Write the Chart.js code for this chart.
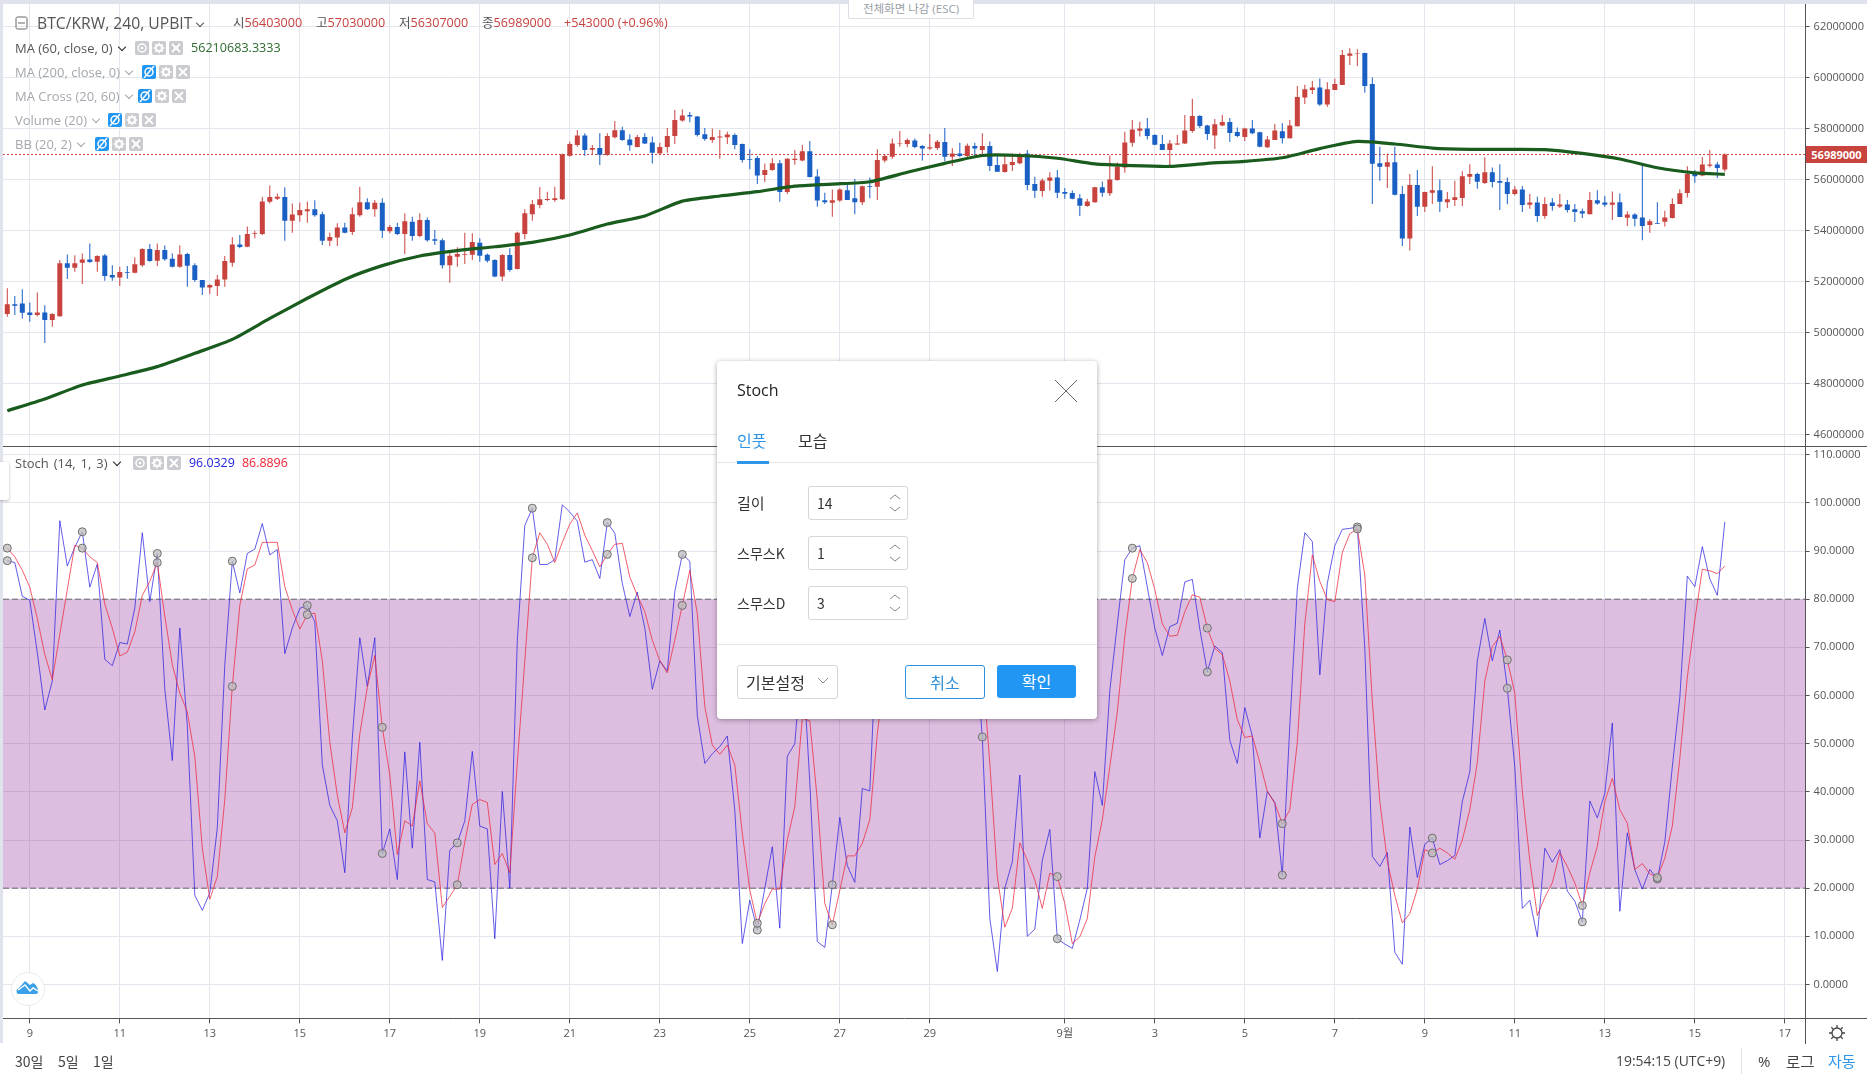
<!DOCTYPE html>
<html lang="ko">
<head>
<meta charset="utf-8">
<title>BTC/KRW Stoch</title>
<script src="https://cdn.jsdelivr.net/npm/chart.js@4/dist/chart.umd.min.js"></script>
<style>
html,body{margin:0;padding:0;background:#fff;width:1867px;height:1080px;overflow:hidden;
  font-family:"Open Sans","Noto Sans CJK KR",sans-serif;color:#555;}
.abs,.t,.ic,.field{position:absolute;}
.wrap{position:absolute;left:0;width:1867px;}
.t{white-space:nowrap;font-size:13px;line-height:16px;}
.faded{color:#a4a8ae;}
.red{color:#c8423e;}
.ic{width:14px;height:14px;border-radius:2px;background:#c9cbd0;}
.ic.on{background:#2196f3;}
.ic svg{left:0;top:0;}
.chev{display:inline-block;width:5px;height:5px;border-right:1.3px solid;border-bottom:1.3px solid;transform:rotate(45deg);margin:0 0 3px 6px;}
#dialog{position:absolute;left:717px;top:361px;width:380px;height:358px;background:#fff;border-radius:4px;
  box-shadow:0 1px 5px rgba(0,0,0,.35);font-family:"Noto Sans CJK KR","Open Sans",sans-serif;color:#333;}
#dialog .t{font-size:15px;line-height:20px;}
.field{left:91px;width:98px;height:32px;border:1px solid #d4d6da;border-radius:3px;font-size:14px;line-height:32px;text-indent:8px;color:#333;}
.btn{position:absolute;top:304px;height:33px;width:79px;border-radius:3px;text-align:center;font-size:16px;line-height:33px;}
.kr{font-family:"Noto Sans CJK KR";color:#444;}
svg{position:absolute;overflow:visible;}
</style>
</head>
<body>
<div class="wrap" style="top:4px;height:443px"><canvas id="priceChart"></canvas></div>
<div class="wrap" style="top:447px;height:633px"><canvas id="stochChart"></canvas></div>

<!-- frame -->
<div class="abs" style="left:0;top:0;width:1867px;height:4px;background:#e0e3eb"></div>
<div class="abs" style="left:0;top:0;width:3px;height:1043px;background:#e0e3eb"></div>
<div class="abs" style="left:3px;top:446px;width:1864px;height:1px;background:#555"></div>
<div class="abs" style="left:1805px;top:1018px;width:62px;height:1px;background:#555"></div>
<div class="abs" style="left:1805px;top:1018px;width:1px;height:26px;background:#555"></div>
<div class="abs" style="left:0;top:462px;width:9px;height:38px;background:#fff;box-shadow:0 1px 3px rgba(0,0,0,.3);border-radius:0 2px 2px 0"></div>
<div class="abs" style="left:848px;top:0;width:124px;height:18px;background:#fff;border:1px solid #dcdfe5;border-top:0;border-radius:0 0 2px 2px;color:#9a9ea6;font-size:11.5px;line-height:17px;text-align:center">전체화면 나감 (ESC)</div>

<!-- upper legend -->
<svg style="left:15px;top:16px" width="14" height="14"><rect x="1" y="1" width="11" height="12" rx="1.5" fill="none" stroke="#666"/><line x1="3" y1="7" x2="10" y2="7" stroke="#666"/></svg>
<div class="t" style="left:37px;top:15px;font-size:15.7px">BTC/KRW, 240, UPBIT<span class="chev" style="margin-left:5px"></span></div>
<div class="t" style="left:233px;top:15px;font-size:12.6px"><span>시</span><span class="red">56403000</span></div>
<div class="t" style="left:316px;top:15px;font-size:12.6px"><span>고</span><span class="red">57030000</span></div>
<div class="t" style="left:399px;top:15px;font-size:12.6px"><span>저</span><span class="red">56307000</span></div>
<div class="t" style="left:482px;top:15px;font-size:12.6px"><span>종</span><span class="red">56989000</span></div>
<div class="t red" style="left:564px;top:15px;font-size:12.6px">+543000 (+0.96%)</div>

<div class="t" style="left:15px;top:40px">MA (60, close, 0)<span class="chev" style="color:#222"></span></div>
<div class="t" style="left:191px;top:40px;font-size:12.6px;color:#2f6b2f">56210683.3333</div>
<div class="t faded" style="left:15px;top:64px">MA (200, close, 0)<span class="chev"></span></div>
<div class="t faded" style="left:15px;top:88px">MA Cross (20, 60)<span class="chev"></span></div>
<div class="t faded" style="left:15px;top:112px">Volume (20)<span class="chev"></span></div>
<div class="t faded" style="left:15px;top:136px">BB (20, 2)<span class="chev"></span></div>

<!-- last price label -->
<div class="abs" style="left:1806px;top:146px;width:61px;height:17px;background:#c8423e;color:#fff;font-size:11px;font-weight:700;line-height:17px;text-align:center">56989000</div>

<!-- stoch legend -->
<div class="t" style="left:15px;top:455px;word-spacing:1.5px">Stoch (14, 1, 3)<span class="chev" style="color:#222"></span></div>
<div class="t" style="left:189px;top:455px;font-size:12.4px;color:#2222dd">96.0329</div>
<div class="t" style="left:242px;top:455px;font-size:12.4px;color:#ee2233">86.8896</div>

<!-- logo -->
<div class="abs" style="left:11px;top:972px;width:32px;height:32px;border-radius:50%;background:#fff;border:1px solid #e6ebee"></div>
<svg style="left:17px;top:981px" width="21" height="13"><path d="M1 13 C-1 12 -1 8 2 7 L8 0 L13 4 L16 2 C19 3 22 9 21 11 C21 12 20 13 19 13 Z" fill="#3aa0e8"/><path d="M1 9 L8 4 L13 10 L16 7 L21 10" fill="none" stroke="#fff" stroke-width="1.4"/></svg>

<!-- bottom toolbar -->
<div class="t kr" style="left:15px;top:1053px;font-size:14px">30일</div>
<div class="t kr" style="left:58px;top:1053px;font-size:14px">5일</div>
<div class="t kr" style="left:93px;top:1053px;font-size:14px">1일</div>
<div class="t" style="left:1616px;top:1053px;font-size:13.9px;color:#444">19:54:15 (UTC+9)</div>
<div class="abs" style="left:1741px;top:1048px;width:1px;height:26px;background:#e0e3eb"></div>
<div class="t" style="left:1758px;top:1053px;font-size:15px;color:#444">%</div>
<div class="t kr" style="left:1786px;top:1053px;font-size:15.5px">로그</div>
<div class="t kr" style="left:1828px;top:1053px;font-size:15px;color:#2d96ea">자동</div>
<svg style="left:1829px;top:1025px" width="16" height="16"><circle cx="8" cy="8" r="5" fill="none" stroke="#444" stroke-width="1.3"/><path d="M8 0V3M8 13V16M0 8H3M13 8H16M2.3 2.3L4.4 4.4M11.6 11.6L13.7 13.7M13.7 2.3L11.6 4.4M4.4 11.6L2.3 13.7" stroke="#444" stroke-width="1.3"/></svg>

<!-- settings dialog -->
<div id="dialog">
  <div class="t" style="left:20px;top:18px;font-size:16px;line-height:22px;color:#222;font-family:'Open Sans'">Stoch</div>
  <svg style="left:338px;top:19px" width="22" height="22"><path d="M0 0L22 22M22 0L0 22" stroke="#666" stroke-width="1"/></svg>
  <div class="t" style="left:20px;top:69px;font-size:16px;color:#2d96ea">인풋</div>
  <div class="t" style="left:81px;top:69px;font-size:16px;color:#333">모습</div>
  <div class="abs" style="left:0;top:101px;width:380px;height:1px;background:#e3e5e9"></div>
  <div class="abs" style="left:20px;top:100px;width:32px;height:3px;background:#2d96ea"></div>

  <div class="t" style="left:20px;top:132px">길이</div>
  <div class="field" style="top:125px">14</div>
  <div class="t" style="left:20px;top:182px;font-size:14px">스무스K</div>
  <div class="field" style="top:175px">1</div>
  <div class="t" style="left:20px;top:232px;font-size:14px">스무스D</div>
  <div class="field" style="top:225px">3</div>
  <svg style="left:172px;top:132px" width="12" height="20"><path d="M1 6L6 2L11 6M1 14L6 18L11 14" fill="none" stroke="#888"/></svg>
  <svg style="left:172px;top:182px" width="12" height="20"><path d="M1 6L6 2L11 6M1 14L6 18L11 14" fill="none" stroke="#888"/></svg>
  <svg style="left:172px;top:232px" width="12" height="20"><path d="M1 6L6 2L11 6M1 14L6 18L11 14" fill="none" stroke="#888"/></svg>

  <div class="abs" style="left:0;top:283px;width:380px;height:1px;background:#e3e5e9"></div>
  <div class="field" style="left:20px;top:304px;width:99px;height:32px;font-size:16px">기본설정</div>
  <svg style="left:101px;top:317px" width="10" height="6"><path d="M0 0L5 5L10 0" fill="none" stroke="#888"/></svg>
  <div class="btn" style="left:188px;border:1px solid #2f8fd8;height:32px;line-height:32px;width:78px;color:#2f8fd8">취소</div>
  <div class="btn" style="left:280px;background:#2196f3;color:#fff">확인</div>
</div>

<script>
// candles, 240 minute bars, prices in millions of KRW
const candleOpen = [
50.73,51.12,51.15,50.79,50.69,50.79,50.50,50.65,52.72,52.55,
52.74,52.87,52.78,53.03,52.26,52.16,52.38,52.35,52.65,53.28,
52.82,53.24,52.90,52.59,53.09,52.65,52.07,51.77,51.83,52.09,
52.74,53.46,53.37,53.87,53.87,55.14,55.25,55.32,54.39,54.61,
54.76,54.84,54.65,53.61,53.73,54.13,53.95,54.61,55.12,54.84,
55.10,53.98,54.15,53.87,54.35,53.79,54.42,53.66,53.63,52.65,
52.98,53.06,53.06,53.53,53.06,52.85,52.20,53.05,52.50,53.87,
54.65,55.01,55.20,55.20,55.23,56.94,57.36,57.73,57.17,57.24,
56.97,57.66,57.94,57.58,57.28,57.67,57.46,57.03,57.28,57.71,
58.32,58.54,58.48,57.78,57.56,57.65,57.66,57.75,57.40,56.81,
56.85,56.18,56.38,56.65,55.52,56.77,56.75,57.12,56.13,55.19,
55.10,55.18,55.59,55.27,55.12,55.75,55.72,56.75,56.90,57.40,
57.40,57.54,57.32,57.22,57.24,57.48,56.90,57.03,56.93,57.32,
57.16,57.32,56.58,56.30,56.58,56.65,57.03,55.83,55.56,55.96,
56.09,55.52,55.48,55.27,54.97,55.12,55.70,55.47,55.99,56.48,
57.45,57.92,58.01,57.75,57.40,57.16,57.38,57.42,57.91,58.50,
58.13,57.73,58.13,58.26,57.87,57.67,58.01,57.86,57.27,57.56,
57.90,57.63,58.10,59.22,59.52,59.62,58.95,59.52,59.71,60.86,
60.93,60.97,59.75,56.65,56.51,56.68,55.44,53.69,55.79,54.94,
55.49,55.59,55.12,55.20,55.28,56.12,56.22,55.87,56.29,55.95,
55.91,55.44,55.62,55.02,55.11,54.58,55.11,54.95,55.03,54.84,
54.76,54.65,55.19,55.11,55.02,55.12,54.51,54.64,54.52,54.22,
54.30,54.35,54.50,55.05,55.48,56.24,56.16,56.55,56.60,56.403];

const candleHigh = [
51.74,51.44,51.70,51.18,51.58,51.08,50.76,52.85,53.07,53.04,
53.11,53.50,53.04,53.09,52.65,52.59,52.62,52.96,53.31,53.48,
53.50,53.42,53.11,53.42,53.14,52.72,52.07,51.90,52.26,53.01,
53.74,53.83,54.16,54.00,55.33,55.77,55.46,55.70,55.07,55.11,
55.14,55.19,54.74,53.92,54.29,54.31,54.91,55.72,55.27,55.20,
55.27,54.22,54.31,54.68,54.55,54.68,54.52,54.03,53.69,53.14,
53.35,53.92,53.90,53.70,53.11,52.88,53.09,53.31,53.96,54.84,
55.20,55.71,55.53,55.72,57.03,57.49,57.95,57.82,57.36,57.82,
57.82,58.30,58.08,57.78,57.75,57.82,57.69,57.45,58.03,58.73,
58.76,58.65,58.50,58.03,58.01,57.95,57.88,57.82,57.42,57.19,
56.93,56.64,56.84,56.77,56.84,57.16,57.36,57.52,56.41,55.49,
55.62,55.66,55.79,56.03,55.77,56.09,57.19,57.01,57.62,57.91,
57.62,57.62,57.36,57.79,57.56,58.03,57.23,57.45,57.42,57.45,
57.82,57.50,56.93,56.93,57.03,57.06,57.16,56.12,56.05,56.29,
56.38,55.67,55.58,55.44,55.25,55.72,55.93,56.95,56.67,57.88,
58.34,58.27,58.42,57.78,57.75,57.56,57.75,58.54,59.17,58.54,
58.15,58.38,58.54,58.42,58.05,58.04,58.34,57.88,57.71,58.18,
58.21,58.34,59.67,59.72,59.87,59.97,59.82,59.97,61.09,61.15,
61.12,60.98,60.01,57.29,57.03,57.29,55.75,56.22,56.38,55.53,
56.53,56.01,55.52,55.96,56.33,56.61,56.27,56.88,56.48,56.61,
56.09,55.75,55.75,55.44,55.33,55.31,55.27,55.44,55.20,55.05,
54.86,55.52,55.59,55.36,55.54,55.46,54.76,54.68,56.61,54.45,
55.12,54.78,55.27,55.63,56.53,56.38,56.89,57.16,56.69,57.03];

const candleLow = [
50.63,50.69,50.56,50.43,50.65,49.60,50.23,50.63,52.11,52.39,
51.91,52.74,52.39,52.04,52.04,51.83,52.12,52.33,52.59,52.78,
52.62,52.82,52.56,52.55,51.80,52.00,51.48,51.52,51.44,51.80,
52.59,53.31,53.35,53.70,53.83,55.07,55.20,53.61,53.92,54.35,
54.31,54.55,53.44,53.40,53.40,53.90,53.83,54.55,54.81,54.55,
53.71,53.90,53.83,53.09,53.61,53.74,53.58,53.44,52.52,51.96,
52.59,52.69,52.85,52.78,52.75,52.17,52.03,52.39,52.48,53.66,
54.39,54.88,55.16,55.14,55.20,56.90,57.29,56.94,56.97,56.58,
56.94,57.62,57.53,57.14,57.27,57.40,56.64,57.03,57.06,57.40,
58.27,58.25,57.69,57.53,57.45,56.82,57.40,57.19,56.67,56.41,
55.83,55.91,56.35,55.14,55.44,56.59,56.72,56.09,54.94,55.05,
54.55,55.14,55.20,54.65,55.01,55.27,55.20,56.67,56.82,57.29,
57.27,57.23,56.75,57.16,57.16,56.72,56.54,56.88,56.88,56.90,
56.93,56.34,56.30,56.27,56.34,56.61,55.59,55.28,55.33,55.57,
55.28,55.25,55.23,54.58,54.94,55.10,55.33,55.36,55.96,56.27,
57.29,57.69,57.58,57.35,57.16,56.58,57.36,57.40,57.84,58.03,
57.56,57.20,58.10,57.48,57.66,57.52,57.78,57.27,57.24,57.56,
57.42,57.62,58.10,58.97,59.36,58.89,58.86,59.52,59.71,60.50,
60.46,59.41,55.05,55.96,55.67,55.38,53.40,53.22,54.58,54.73,
55.05,54.73,54.89,54.97,54.97,55.83,55.65,55.83,55.69,54.81,
55.04,55.39,54.73,54.86,54.34,54.47,54.78,54.89,54.71,54.34,
54.50,54.65,55.02,54.94,54.42,54.54,54.18,54.16,53.63,53.92,
54.26,54.16,54.48,55.05,55.30,55.88,56.14,56.48,56.07,56.307];

const candleClose = [
51.12,51.06,50.78,50.69,50.79,50.50,50.73,52.72,52.55,52.72,
52.87,52.77,53.01,52.22,52.16,52.38,52.35,52.68,53.28,52.81,
53.24,52.88,52.59,53.07,52.63,52.07,51.77,51.87,52.09,52.81,
53.46,53.36,53.87,53.90,55.15,55.32,55.33,54.39,54.64,54.81,
54.84,54.61,53.61,53.75,54.13,53.92,54.65,55.12,54.84,55.10,
54.00,54.15,53.87,54.37,53.79,54.42,53.63,53.61,52.65,53.02,
53.09,53.09,53.56,53.02,52.82,52.20,53.05,52.46,53.92,54.68,
55.04,55.23,55.24,55.27,56.99,57.40,57.73,57.16,57.24,56.98,
57.71,57.94,57.56,57.35,57.67,57.42,57.06,57.28,57.71,58.34,
58.52,58.48,57.75,57.60,57.67,57.69,57.77,57.36,56.77,56.78,
56.16,56.38,56.65,55.52,56.82,56.82,57.12,56.11,55.18,55.12,
55.19,55.62,55.20,55.12,55.74,55.72,56.77,56.93,57.42,57.42,
57.56,57.28,57.22,57.27,57.49,56.90,57.03,56.93,57.33,57.22,
57.32,56.54,56.31,56.61,56.69,57.01,55.79,55.57,55.97,56.09,
55.49,55.45,55.25,54.98,55.15,55.70,55.49,56.01,56.51,57.46,
57.97,58.01,57.71,57.37,57.16,57.42,57.42,57.93,58.50,58.11,
57.79,58.17,58.26,57.83,57.71,58.01,57.82,57.29,57.58,57.93,
57.63,58.13,59.24,59.55,59.62,58.95,59.55,59.75,60.89,60.95,
60.95,59.67,56.63,56.51,56.68,55.41,53.69,55.79,54.94,55.52,
55.59,55.14,55.23,55.31,56.14,56.22,55.92,56.29,55.91,55.88,
55.44,55.62,55.01,55.11,54.58,55.05,54.97,55.03,54.81,54.73,
54.67,55.20,55.07,55.02,55.11,54.54,54.64,54.47,54.18,54.37,
54.27,54.52,55.05,55.47,56.22,56.14,56.60,56.60,56.46,56.989];

// MA 60, read every 5th bar
const maIndex = [0,5,10,15,20,25,30,35,40,45,50,55,60,65,70,75,80,85,90,95,100,105,110,115,120,125,130,135,140,145,150,155,160,165,170,175,180,185,190,195,200,205,210,215,220,225,229];
const maValues = [46.94,47.40,47.95,48.30,48.67,49.19,49.74,50.56,51.35,52.09,52.63,53.01,53.22,53.37,53.54,53.83,54.26,54.58,55.16,55.36,55.53,55.75,55.83,55.92,56.29,56.64,56.95,56.95,56.84,56.62,56.55,56.52,56.64,56.72,56.86,57.22,57.50,57.40,57.24,57.19,57.19,57.18,57.03,56.81,56.47,56.27,56.21];
const lastPrice = 56.989;

const stochK = [
88,87.6,80.6,79.8,68.9,57,63,96.3,86.9,90.8,
94,82.5,87.3,67.5,66.2,71,70.7,78.2,93.8,79.5,
89.5,61.3,46.5,74,53.7,18.5,15.4,19,32.5,66.4,
87.9,81.3,89.5,90.4,95.7,89.2,90.3,68.7,74,78.1,
78.7,75.3,45.6,37.2,34,23.2,51.1,72,61.9,72,
27.2,32.3,21.8,48.3,28.3,50.3,21.8,21.3,5,27.9,
29.4,34,48.4,32.9,32.3,9.5,40.1,20,71.5,95.3,
98.9,87.2,87.2,88.2,99.6,98.1,96.2,87.7,88.2,84.3,
95.9,93.7,83.3,76.4,81.5,74,61.3,67.2,65.1,81.6,
89.3,87.9,55.8,45.9,47.9,49.4,51.6,36.2,8.5,17.5,
11.3,20,28.6,11.7,47.4,50,69,42,8.9,7.7,
20.7,34.7,24.7,21.2,40.7,40.2,75,80,94,86,
89,81,79,81,87,67,71,64,75,71,
51.4,13.7,2.7,20,25.5,43.5,10,11.5,25.8,32.2,
9.5,8.4,7.5,13.4,20,44.2,37.2,61,74.9,88.2,
90.6,91.1,82.5,74,68.3,74.3,75,83.6,84.1,73.8,
64.9,70.3,68.9,50.7,45.9,57.5,51.6,30.4,40.1,37.8,
22.7,53.7,82.3,93.8,92,64.3,83.3,91.1,94.5,94.7,
95,69.8,26.6,24.5,27.4,6.7,4.2,32.7,22.2,29.1,
30.4,24.9,25.7,26.8,38,44.2,67.2,76,67.2,73.6,
61.5,45.2,15.8,17.5,9.9,28.3,25.4,28,19.4,17.3,
13,38.1,34.6,39.7,54.3,15.2,31.5,23.9,19.8,23.9,
21.9,29.6,45.2,59.6,84.8,82.6,90.9,84.2,80.8,96.03];

const stochD = [
90.6,88.8,86,82.5,76,68.5,63.3,72.7,82,91.2,
90.6,88.8,87.6,79,74,68.2,69,73.2,80.8,83.7,
87.6,76.5,66.4,60.5,56.6,47.3,28.3,17.7,22.4,38.4,
61.9,78.7,86.3,87.1,91.8,91.8,91.8,82.6,77.8,73.8,
76.8,77.1,67.2,50.3,39.3,31.5,36.7,52,61.7,68.3,
53.4,43.5,27,34,32.9,42.3,33.4,31.4,16,18.3,
20.7,29.6,37.4,38.4,37.8,24.9,27.2,23.2,46,67.2,
88.6,93.8,91.4,87.6,91.8,95.6,97.9,93.3,90.1,86.7,
89.3,91.4,91.6,84.6,80.8,77.4,71.5,67.2,64.7,71.5,
78.7,86,77,57.7,49.7,47.8,49.7,45.6,31.4,19.6,
12.7,16.8,19.8,19.8,30,36.9,55.3,54.7,38.3,16.8,
12.4,19.6,26.7,26.7,29.3,34.2,52,65,83,87,
90,85.3,83,80.3,82.3,78.3,75,67.3,70,70,
66.3,45.9,22.4,11.9,15.8,29.4,25.8,21.7,15.8,23.1,
22.4,16.8,8.5,9.9,13.7,26.5,34.2,45.2,56.6,72.3,
84.3,90.3,87.6,82,74.9,72.3,72.5,77.4,80.9,80.4,
74,69.8,68.5,63,55,51.3,51.6,46.1,40.1,37.6,
33.4,36.3,50.3,74.9,89.2,83.7,79.9,79.5,89.7,93.6,
94.6,85,58.8,38,25.7,18.5,12.8,14.7,19.8,28,
27.3,28.3,27.3,26,30,36.3,46.1,63,70.2,72.3,
67.4,60.5,40.1,25.7,14.3,18.1,21.1,27.4,24.5,21.1,
16.4,23.2,28.7,38,42.8,36.3,33.5,23.9,25.1,23,
22.2,26.2,32.9,46.9,63.8,75.7,86.2,85.9,85.3,86.89];

// x axis: bar number, the date ticks fall on these bars
const dateTickBars = [3,15,27,39,51,63,75,87,99,111,123,141,153,165,177,189,201,213,225,237];
const dateTickLabels = ['9','11','13','15','17','19','21','23','25','27','29','9월','3','5','7','9','11','13','15','17'];
const priceTicks = [46,48,50,52,54,56,58,60,62];
const stochTicks = [0,10,20,30,40,50,60,70,80,90,100,110];
const bandLevels = [80,20];

const UP = '#c8423e', DOWN = '#1a5fc4', GRID = '#e3e6ed', AXIS = '#555';
const X_MIN = -0.573, X_MAX = 239.77;
const tickFont = { family: '"Open Sans","Noto Sans CJK KR"', size: 11 };

const candleColors = candleOpen.map((o, i) => candleClose[i] >= o ? UP : DOWN);

// legend buttons: eye or crossed eye, gear, close
const eyeIcon = '<svg width="14" height="14"><circle cx="7" cy="7" r="4" fill="none" stroke="#fff" stroke-width="1.5"/><circle cx="7" cy="7" r="1.3" fill="#fff"/></svg>';
const hiddenIcon = '<svg width="14" height="14"><circle cx="7" cy="7" r="4" fill="none" stroke="#fff" stroke-width="1.5"/><path d="M2 13L12 1" stroke="#fff" stroke-width="1.4"/></svg>';
const gearIcon = '<svg width="14" height="14"><circle cx="7" cy="7" r="3" fill="none" stroke="#fff" stroke-width="2"/><path d="M7 1.5V3.5M7 10.5V12.5M1.5 7H3.5M10.5 7H12.5M3.2 3.2L4.5 4.5M9.5 9.5L10.8 10.8M10.8 3.2L9.5 4.5M4.5 9.5L3.2 10.8" stroke="#fff" stroke-width="1.4"/></svg>';
const closeIcon = '<svg width="14" height="14"><path d="M3 3L11 11M11 3L3 11" stroke="#fff" stroke-width="1.8"/></svg>';

function addIcons(left, top, hidden) {
    [hidden ? hiddenIcon : eyeIcon, gearIcon, closeIcon].forEach((svg, i) => {
        const el = document.createElement('div');
        el.className = 'ic' + (hidden && i === 0 ? ' on' : '');
        el.style.left = (left + i * 17) + 'px';
        el.style.top = top + 'px';
        el.innerHTML = svg;
        document.body.appendChild(el);
    });
}
addIcons(135, 41, false);
addIcons(142, 65, true);
addIcons(138, 89, true);
addIcons(108, 113, true);
addIcons(95, 137, true);
addIcons(133, 456, false);

function setDateTicks(axis) {
    axis.ticks = dateTickBars.map(v => ({ value: v }));
}

// stop the tick labels from pushing the plot area in
function dropPadding(axis) {
    axis.paddingTop = axis.paddingBottom = axis.paddingLeft = axis.paddingRight = 0;
}

function baseX(showLabels) {
    return {
        type: 'linear', min: X_MIN, max: X_MAX, offset: false,
        afterBuildTicks: setDateTicks,
        afterFit: axis => { axis.height = showLabels ? 61.6 : 0; dropPadding(axis); },
        border: { display: showLabels, color: AXIS },
        grid: { color: GRID, offset: false, tickColor: AXIS, tickLength: 5, drawTicks: showLabels },
        ticks: {
            display: showLabels, autoSkip: false, maxRotation: 0, padding: 4, color: AXIS, font: tickFont,
            callback: v => dateTickLabels[dateTickBars.indexOf(v)]
        }
    };
}

function baseY(min, max, tickValues, format) {
    return {
        position: 'right', min, max,
        afterBuildTicks: axis => { axis.ticks = tickValues.map(v => ({ value: v })); },
        afterFit: axis => { axis.width = 61.4; dropPadding(axis); },
        border: { color: AXIS },
        grid: { color: GRID, tickColor: AXIS, tickLength: 4 },
        ticks: { autoSkip: false, padding: 4, color: AXIS, font: tickFont, callback: format }
    };
}

const sharedOptions = {
    responsive: true, maintainAspectRatio: false, animation: false,
    layout: { autoPadding: false, padding: { left: 3, right: 0, top: 0, bottom: 0 } },
    plugins: { legend: { display: false }, tooltip: { enabled: false } }
};

new Chart(document.getElementById('priceChart'), {
    type: 'bar',
    data: {
        datasets: [
            {
                type: 'line', order: 1,
                data: maIndex.map((x, i) => ({ x, y: maValues[i] })),
                borderColor: '#1a5c1e', borderWidth: 3.2, pointRadius: 0, tension: 0.2
            },
            {
                order: 2, grouped: false, barPercentage: 1, maxBarThickness: 5,
                data: candleOpen.map((o, i) => ({ x: i, y: [o, candleClose[i]] })),
                backgroundColor: candleColors, borderWidth: 0
            },
            {
                order: 3, grouped: false, barPercentage: 1, maxBarThickness: 1,
                data: candleHigh.map((h, i) => ({ x: i, y: [candleLow[i], h] })),
                backgroundColor: candleColors, borderWidth: 0
            },
            {
                type: 'line', order: 4,
                data: [{ x: X_MIN, y: lastPrice }, { x: X_MAX, y: lastPrice }],
                borderColor: UP, borderWidth: 1, borderDash: [2, 2], pointRadius: 0
            }
        ]
    },
    options: {
        ...sharedOptions,
        scales: {
            x: baseX(false),
            y: baseY(45.518, 62.89, priceTicks, v => String(v * 1000000))
        }
    }
});

// every 10th bar carries a signal dot on both lines
const dotStyle = {
    pointRadius: c => c.dataIndex % 10 === 0 ? 4 : 0,
    pointBackgroundColor: 'rgba(190,190,190,0.75)',
    pointBorderColor: '#6e6e6e', pointBorderWidth: 1
};

new Chart(document.getElementById('stochChart'), {
    type: 'line',
    data: {
        datasets: [
            {
                order: 1, data: stochD.map((y, x) => ({ x, y })),
                borderColor: 'rgba(238,40,60,0.75)', borderWidth: 1, tension: 0, ...dotStyle
            },
            {
                order: 2, data: stochK.map((y, x) => ({ x, y })),
                borderColor: 'rgba(40,30,225,0.72)', borderWidth: 1, tension: 0, ...dotStyle
            },
            {
                order: 3, data: [{ x: X_MIN, y: bandLevels[0] }, { x: X_MAX, y: bandLevels[0] }],
                borderColor: '#666', borderWidth: 1, borderDash: [6, 3], pointRadius: 0,
                fill: '+1', backgroundColor: 'rgba(142,35,152,0.3)'
            },
            {
                order: 3, data: [{ x: X_MIN, y: bandLevels[1] }, { x: X_MAX, y: bandLevels[1] }],
                borderColor: '#666', borderWidth: 1, borderDash: [6, 3], pointRadius: 0
            }
        ]
    },
    options: {
        ...sharedOptions,
        scales: {
            x: baseX(true),
            y: baseY(-7.04, 111.6, stochTicks, v => v.toFixed(4))
        }
    }
});
</script>
</body>
</html>
